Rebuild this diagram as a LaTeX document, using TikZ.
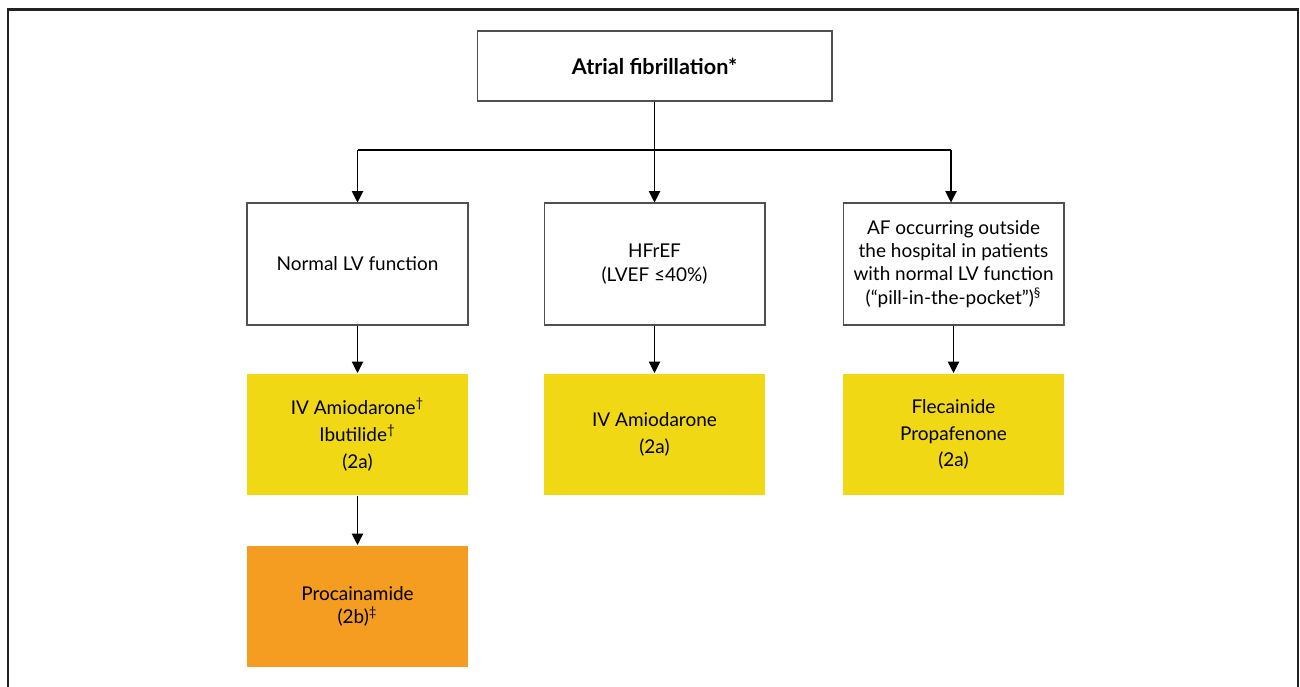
\documentclass[tikz,border=0pt]{standalone}
\usepackage{fontspec}
\setmainfont{Lato}
\usetikzlibrary{arrows.meta}
\definecolor{ayellow}{RGB}{240,217,20}
\definecolor{aorange}{RGB}{245,157,32}
\definecolor{frame}{RGB}{34,34,34}
\definecolor{boxline}{RGB}{80,80,80}
\tikzset{
  box/.style={draw=boxline, line width=0.6pt, minimum width=4.42cm, minimum height=2.44cm, align=center, font=\fontsize{10.8}{13.2}\selectfont, inner sep=2pt},
  ybox/.style={box, draw=none, fill=ayellow},
  obox/.style={box, draw=none, fill=aorange},
  conn/.style={draw=black, line width=0.6pt},
  arr/.style={conn, -{Triangle[length=6.5pt,width=6.5pt]}}
}
\begin{document}
\begin{tikzpicture}[x=0.02cm,y=-0.02cm]
\useasboundingbox (0,0) rectangle (1300,686);
\draw[frame, line width=1.2pt] (8,690) -- (8,9.5) -- (1298,9.5) -- (1298,690);
\node[box, minimum width=7.1cm, minimum height=1.4cm, font=\fontsize{12.3}{14}\selectfont\bfseries] (af) at (654.5,66) {Atrial fibrillation*};
\node[box] (nlv) at (357.5,264) {Normal LV function};
\node[box] (hf) at (654.5,264) {HFrEF\\(LVEF ≤40\%)};
\node[box] (out) at (953.5,264) {AF occurring outside\\the hospital in patients\\with normal LV function\\(“pill-in-the-pocket”)\textsuperscript{§}};
\node[ybox] (y1) at (357.5,434.5) {IV Amiodarone\textsuperscript{†}\\[2pt]Ibutilide\textsuperscript{†}\\[2pt](2a)};
\node[ybox] (y2) at (654.5,434.5) {IV Amiodarone\\[2pt](2a)};
\node[ybox] (y3) at (953.5,434.5) {Flecainide\\[2pt]Propafenone\\[2pt](2a)};
\node[obox] (o1) at (357.5,606.5) {Procainamide\\(2b)\textsuperscript{‡}};
\coordinate (j) at (654.5,150);
\coordinate (jl) at (357.5,150);
\coordinate (jr) at (951,150);
\draw[conn] (af.south) -- (j);
\draw[conn] (jl) -- (jr);
\draw[arr] (jl) -- (nlv.north);
\draw[arr] (j) -- (hf.north);
\draw[arr] (jr) -- (jr |- out.north);
\draw[arr] (nlv.south) -- (y1.north);
\draw[arr] (hf.south) -- (y2.north);
\draw[arr] (out.south) -- (y3.north);
\draw[arr] (y1.south) -- (o1.north);
\end{tikzpicture}
\end{document}
